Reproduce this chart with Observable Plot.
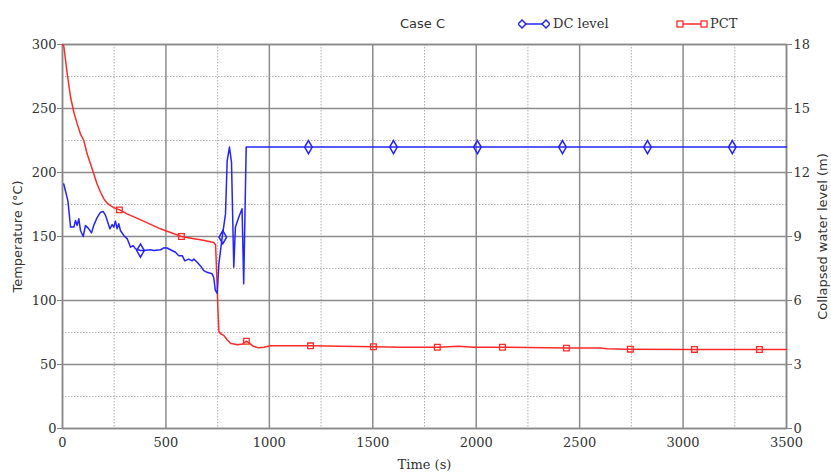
<!DOCTYPE html>
<html>
<head>
<meta charset="utf-8">
<script src="https://cdn.jsdelivr.net/npm/d3@7"></script>
<script src="https://cdn.jsdelivr.net/npm/@observablehq/plot@0.6"></script>
<style>
  body { margin: 0; background: #fff; }
  #wrap { position: relative; width: 831px; }
  #legend { position: relative; width: 831px; height: 30px; font-family: "DejaVu Serif", serif; font-size: 13px; color: #333; }
  #legend .t { position: absolute; top: 16px; line-height: 16px; white-space: nowrap; }
  #legend svg { position: absolute; }
</style>
</head>
<body>
<div id="wrap">
  <div id="legend"></div>
  <div id="chart"></div>
</div>
<script>
// ---- data ----
const pctTime = [0, 6, 23, 39, 55, 71, 87, 103, 119, 135, 151, 167, 184, 200, 216, 232, 248, 264, 276, 312, 392, 473, 575, 635, 667, 731, 740, 748, 752, 756, 764, 780, 796, 812, 844, 870, 889, 905, 925, 949, 973, 1005, 1200, 1344, 1505, 1634, 1819, 1915, 1988, 2117, 2439, 2600, 2633, 2729, 3050, 3500];
const pctTemp = [300, 299, 277, 258.8, 247, 238, 230, 225, 214.6, 206.8, 199, 191, 184.6, 179.4, 176, 174.2, 172.5, 171.6, 170.8, 167.7, 162, 156, 150, 148.3, 147.5, 145.3, 143.5, 110, 90, 76, 74, 72.7, 69.3, 66.6, 65.4, 66, 68.2, 66.5, 64, 63, 63.5, 64.6, 64.6, 64.3, 63.9, 63.5, 63.5, 64.2, 63.5, 63.5, 62.8, 62.8, 62.3, 62, 61.8, 61.7];

const dcTime = [6, 26, 39, 55, 63, 71, 79, 87, 100, 111, 119, 127, 140, 151, 168, 184, 197, 208, 216, 229, 240, 248, 256, 264, 272, 280, 296, 313, 329, 342, 353, 377, 393, 425, 441, 474, 490, 506, 522, 546, 562, 579, 591, 610, 627, 635, 651, 667, 683, 699, 723, 731, 739, 748, 756, 772, 788, 796, 807, 817, 828, 836, 852, 868, 876, 888, 3500];
const dcLevel = [11.46, 10.68, 9.44, 9.44, 9.75, 9.52, 9.83, 9.28, 9.0, 9.52, 9.44, 9.36, 9.17, 9.52, 9.9, 10.14, 10.17, 9.99, 9.75, 9.36, 9.56, 9.44, 9.72, 9.36, 9.6, 9.28, 9.05, 8.89, 8.5, 8.57, 8.42, 8.34, 8.34, 8.38, 8.34, 8.38, 8.47, 8.46, 8.38, 8.26, 8.1, 8.1, 7.86, 7.94, 7.86, 7.94, 7.79, 7.62, 7.4, 7.32, 7.25, 7.08, 6.47, 6.33, 7.72, 8.97, 10.06, 12.54, 13.19, 12.48, 7.56, 9.44, 9.9, 10.3, 6.78, 13.19, 13.19];

const dcMarkTime = [377, 775, 1189, 1600, 2006, 2417, 2828, 3238];
const dcMarkLevel = [8.34, 8.97, 13.19, 13.19, 13.19, 13.19, 13.19, 13.19];
const pctMarkTime = [275, 575, 889, 1199, 1503, 1812, 2127, 2436, 2745, 3055, 3369];
const pctMarkTemp = [170.8, 150, 68.2, 64.6, 63.9, 63.5, 63.5, 62.8, 62, 61.8, 61.7];

const xTicks = [0, 500, 1000, 1500, 2000, 2500, 3000, 3500];
const xMinor = [250, 750, 1250, 1750, 2250, 2750, 3250];
const yTicks = [0, 50, 100, 150, 200, 250, 300];
const yMinor = [25, 75, 125, 175, 225, 275];
const levelTicks = [0, 3, 6, 9, 12, 15, 18];
const tempMax = 300, levelMax = 18;

// ---- build tables ----
const pct = pctTime.map((t, i) => ({t, v: pctTemp[i]}));
const dc = dcTime.map((t, i) => ({t, v: dcLevel[i] * tempMax / levelMax}));
const dcMarks = dcMarkTime.map((t, i) => ({t, v: dcMarkLevel[i] * tempMax / levelMax}));
const pctMarks = pctMarkTime.map((t, i) => ({t, v: pctMarkTemp[i]}));

const BLUE = "#2424ff", RED = "#ff2a2a";

const chart = Plot.plot({
  width: 831,
  height: 443,
  marginTop: 14,
  marginBottom: 45,
  marginLeft: 62,
  marginRight: 45,
  x: {domain: [0, 3500]},
  y: {domain: [0, 300]},
  style: {fontFamily: "'DejaVu Serif', serif", fontSize: "13px", color: "#333", background: "#fff"},
  marks: [
    Plot.ruleX(xMinor, {stroke: "#b0b0b0", strokeWidth: 1, strokeDasharray: "1.5,1.5"}),
    Plot.ruleY(yMinor, {stroke: "#b0b0b0", strokeWidth: 1, strokeDasharray: "1.5,1.5"}),
    Plot.ruleX(xTicks, {stroke: "#8c8c8c", strokeWidth: 1.5}),
    Plot.ruleY(yTicks, {stroke: "#8c8c8c", strokeWidth: 1.5}),
    Plot.frame({stroke: "#888", strokeWidth: 1.5}),
    Plot.line(pct, {x: "t", y: "v", stroke: RED, strokeWidth: 1.5}),
    Plot.line(dc, {x: "t", y: "v", stroke: BLUE, strokeWidth: 1.5}),
    Plot.dot(pctMarks, {x: "t", y: "v", symbol: "square", r: 3.2, stroke: RED, strokeWidth: 1.3, fill: "none"}),
    Plot.dot(dcMarks, {x: "t", y: "v", symbol: "diamond", r: 4, stroke: BLUE, strokeWidth: 1.5, fill: "none"}),
    Plot.axisX({ticks: xTicks, tickFormat: d => String(d), tickSize: 0, tickPadding: 9, label: null, fill: "#333"}),
    Plot.axisX({ticks: [], label: "Time (s)", labelAnchor: "center", labelArrow: "none", labelOffset: 40}),
    Plot.axisY({ticks: yTicks, tickFormat: d => String(d), tickSize: 5, tickPadding: 1, stroke: "#888", label: null}),
    Plot.axisY({ticks: [], label: "Temperature (°C)", labelAnchor: "center", labelArrow: "none", labelOffset: 50, fontFamily: "'DejaVu Sans', sans-serif"}),
    Plot.axisY({anchor: "right", ticks: yTicks, tickFormat: d => String(d * levelMax / tempMax), tickSize: 5, tickPadding: 2, stroke: "#888", label: null}),
    Plot.axisY({anchor: "right", ticks: [], label: "Collapsed water level (m)", labelAnchor: "center", labelArrow: "none", labelOffset: 40, fontFamily: "'DejaVu Sans', sans-serif"})
  ]
});
document.getElementById("chart").appendChild(chart);

// ---- legend ----
const legend = document.getElementById("legend");
function addText(txt, left, family) {
  const s = document.createElement("span");
  s.className = "t";
  s.textContent = txt;
  s.style.left = left + "px";
  if (family) s.style.fontFamily = family;
  legend.appendChild(s);
}
function addIcon(left, color, symbol) {
  const svg = d3.create("svg").attr("width", 32).attr("height", 12)
    .style("left", left + "px").style("top", "18px");
  svg.append("line").attr("x1", 4).attr("x2", 28).attr("y1", 6).attr("y2", 6)
    .attr("stroke", color).attr("stroke-width", 1.5);
  for (const cx of [4, 28]) {
    if (symbol === "diamond") {
      svg.append("path").attr("d", `M${cx},2L${cx + 4},6L${cx},10L${cx - 4},6Z`)
        .attr("fill", "white").attr("stroke", color).attr("stroke-width", 1.5);
    } else {
      svg.append("rect").attr("x", cx - 3).attr("y", 3).attr("width", 6).attr("height", 6)
        .attr("fill", "white").attr("stroke", color).attr("stroke-width", 1.3);
    }
  }
  legend.appendChild(svg.node());
}
addText("Case C", 400, "'DejaVu Sans', sans-serif");
addIcon(518, BLUE, "diamond");
addText("DC level", 553);
addIcon(676, RED, "square");
addText("PCT", 710);
</script>
</body>
</html>
